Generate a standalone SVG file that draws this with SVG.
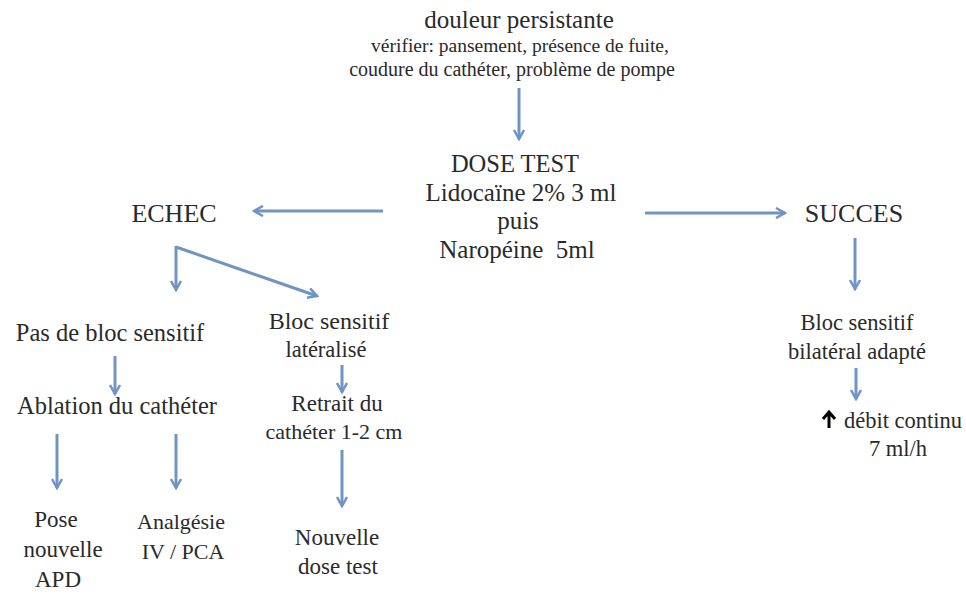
<svg xmlns="http://www.w3.org/2000/svg" width="966" height="610" viewBox="0 0 966 610">
<defs>
<style>
text{font-family:"Liberation Serif","DejaVu Serif",serif;fill:#2a2a2a;text-anchor:middle;font-size:24px}
.s{font-size:19.5px}
.r{font-size:22.5px}
.b{font-size:23px}
.c{fill:none;stroke:#7094c4;stroke-width:3}
</style>
<marker id="ah" viewBox="0 0 12 12" refX="10" refY="6" markerWidth="12" markerHeight="12" markerUnits="userSpaceOnUse" orient="auto">
<path d="M1,1 L10,6 L1,11" fill="none" stroke="#7094c4" stroke-width="2.5"/>
</marker>
</defs>
<rect width="966" height="610" fill="#fff"/>
<g id="connectors">
<line class="c" x1="519" y1="88" x2="519" y2="139" marker-end="url(#ah)"/>
<line class="c" x1="383" y1="211" x2="254" y2="211" marker-end="url(#ah)"/>
<line class="c" x1="645" y1="213" x2="785" y2="213" marker-end="url(#ah)"/>
<line class="c" x1="855" y1="238" x2="855" y2="289" marker-end="url(#ah)"/>
<line class="c" x1="856" y1="368" x2="856" y2="399" marker-end="url(#ah)"/>
<polyline class="c" points="176,247 317,296" marker-end="url(#ah)"/>
<line class="c" x1="176" y1="246" x2="176" y2="290" marker-end="url(#ah)"/>
<line class="c" x1="115" y1="356" x2="115" y2="394" marker-end="url(#ah)"/>
<line class="c" x1="342" y1="365" x2="342" y2="392" marker-end="url(#ah)"/>
<line class="c" x1="57" y1="434" x2="57" y2="488" marker-end="url(#ah)"/>
<line class="c" x1="176" y1="434" x2="176" y2="488" marker-end="url(#ah)"/>
<line class="c" x1="342" y1="450" x2="342" y2="506" marker-end="url(#ah)"/>
</g>
<g id="douleur">
<text x="519" y="28" style="font-size:25px">douleur persistante</text>
<text class="s" x="520" y="52">vérifier: pansement, présence de fuite,</text>
<text x="512" y="76" style="font-size:20px">coudure du cathéter, problème de pompe</text>
</g>
<g id="dosetest">
<text x="515" y="172" style="font-size:24.5px">DOSE TEST</text>
<text x="521" y="201" style="font-size:25px">Lidocaïne 2% 3 ml</text>
<text x="518" y="229" style="font-size:25px">puis</text>
<text x="517" y="258" style="font-size:25px" xml:space="preserve">Naropéine  5ml</text>
</g>
<g id="echec"><text x="174" y="222" style="font-size:26px">ECHEC</text></g>
<g id="succes"><text x="854" y="222" style="font-size:26px">SUCCES</text></g>
<g id="bloc-bilateral">
<text class="r" x="857" y="330">Bloc sensitif</text>
<text class="r" x="857" y="359">bilatéral adapté</text>
</g>
<g id="debit">
<path d="M829,428 L829,413 M823,419 L829,412 L835,419" fill="none" stroke="#000" stroke-width="3"/>
<text class="r" x="903" y="428">débit continu</text>
<text class="r" x="898" y="456">7 ml/h</text>
</g>
<g id="pas-de-bloc"><text x="110" y="341" style="font-size:24.5px">Pas de bloc sensitif</text></g>
<g id="bloc-lateralise">
<text x="329" y="329">Bloc sensitif</text>
<text x="326" y="357" style="font-size:22.5px">latéralisé</text>
</g>
<g id="ablation"><text x="117" y="414" style="font-size:24.5px">Ablation du cathéter</text></g>
<g id="retrait">
<text class="b" x="337" y="411">Retrait du</text>
<text x="334" y="439" style="font-size:22px">cathéter 1-2 cm</text>
</g>
<g id="pose">
<text class="b" x="56" y="527">Pose</text>
<text class="b" x="63" y="557">nouvelle</text>
<text class="b" x="58" y="587">APD</text>
</g>
<g id="analgesie">
<text x="181" y="529" style="font-size:22px">Analgésie</text>
<text x="183" y="559" style="font-size:22px">IV / PCA</text>
</g>
<g id="nouvelle-dose">
<text class="b" x="337" y="545">Nouvelle</text>
<text class="b" x="338" y="574">dose test</text>
</g>
</svg>
